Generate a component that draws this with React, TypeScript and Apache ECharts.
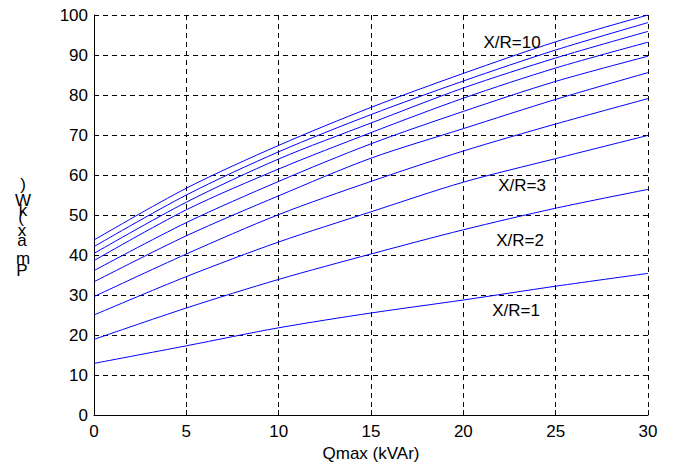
import React, { useEffect, useRef } from "react";
import * as echarts from "echarts";

const qmax = [0, 5, 10, 15, 20, 25, 30];
const xr1 = [12.9, 17.3, 21.8, 25.5, 28.75, 32.2, 35.4];
const xr2 = [18.9, 26.75, 33.9, 40.25, 46.3, 51.7, 56.4];
const xr3 = [25, 34.6, 43.25, 50.8, 58.2, 64.1, 69.9];
const xr4 = [29.6, 40.25, 50.1, 58.4, 66, 72.75, 79.1];
const xr5 = [33.3, 44.8, 54.8, 64.2, 71.6, 78.9, 85.6];
const xr6 = [36.1, 48.1, 58.4, 67.8, 75.9, 83.4, 89.7];
const xr7 = [38.6, 51.3, 61.5, 70.6, 79.2, 86.75, 93.2];
const xr8 = [40.4, 53.2, 64.0, 73.0, 81.75, 89.25, 95.9];
const xr9 = [42.1, 55, 65.8, 75.1, 83.5, 91.25, 98.1];
const xr10 = [43.75, 56.7, 67.4, 76.9, 85.4, 93.3, 100];
const seriesList = [xr1, xr2, xr3, xr4, xr5, xr6, xr7, xr8, xr9, xr10];
const seriesNames = ["X/R=1", "X/R=2", "X/R=3", "X/R=4", "X/R=5", "X/R=6", "X/R=7", "X/R=8", "X/R=9", "X/R=10"];
const curveLabels = ["X/R=10", "X/R=3", "X/R=2", "X/R=1"];
const xAxisTitle = "Qmax (kVAr)";
const yAxisTitleChars = [")", "W", "k", "(", "x", "a", "m", "P"];

const FONT = "'Liberation Sans', Arial, sans-serif";
const FS = 17;

export default function App() {
  const ref = useRef<HTMLDivElement>(null);
  useEffect(() => {
    if (!ref.current) return;
    const chart = echarts.init(ref.current, undefined, { renderer: "svg" });
    const labelPos = [
      [512, 42],
      [522, 185],
      [520, 240],
      [516, 310],
    ];
    const yCharPos = [
      [23, 184],
      [23, 200],
      [23, 210],
      [21, 217],
      [22, 230],
      [22, 240],
      [23, 258],
      [22, 270],
    ];
    const graphics: any[] = [];
    curveLabels.forEach((t, i) => {
      graphics.push({
        type: "text",
        x: labelPos[i][0],
        y: labelPos[i][1],
        style: {
          text: t,
          font: FS + "px " + FONT,
          fill: "#000",
          align: "center",
          verticalAlign: "middle",
        },
        z: 10,
      });
    });
    yAxisTitleChars.forEach((c, i) => {
      graphics.push({
        type: "text",
        x: yCharPos[i][0],
        y: yCharPos[i][1],
        style: {
          text: c,
          font: FS + "px " + FONT,
          fill: "#000",
          align: "center",
          verticalAlign: "middle",
        },
      });
    });
    const gridLine = {
      show: true,
      lineStyle: { color: "#000", type: [5, 4] as any, width: 1 },
    };
    chart.setOption({
      animation: false,
      backgroundColor: "#fff",
      grid: { left: 94, right: 33, top: 15, bottom: 53, containLabel: false },
      xAxis: {
        type: "value",
        min: 0,
        max: 30,
        interval: 5,
        name: xAxisTitle,
        nameLocation: "middle",
        nameGap: 29,
        nameTextStyle: { fontFamily: FONT, fontSize: FS, color: "#000" },
        axisLine: { show: true, onZero: false, lineStyle: { color: "#000", width: 1 } },
        axisTick: { show: true, inside: true, length: 5, lineStyle: { color: "#000" } },
        axisLabel: { fontFamily: FONT, fontSize: FS, color: "#000", margin: 8 },
        splitLine: gridLine,
      },
      yAxis: {
        type: "value",
        min: 0,
        max: 100,
        interval: 10,
        axisLine: { show: true, lineStyle: { color: "#000", width: 1 } },
        axisTick: { show: true, inside: true, length: 5, lineStyle: { color: "#000" } },
        axisLabel: { fontFamily: FONT, fontSize: FS, color: "#000", margin: 6 },
        splitLine: gridLine,
      },
      graphic: graphics,
      series: seriesList.map((vals, i) => ({
        type: "line",
        name: seriesNames[i],
        data: qmax.map((x, j) => [x, vals[j]]),
        showSymbol: false,
        smooth: 0.3,
        lineStyle: { color: "#0000ff", width: 1 },
        itemStyle: { color: "#0000ff" },
      })),
    });
    return () => chart.dispose();
  }, []);
  return (
    <div
      ref={ref}
      style={{ position: "fixed", left: 0, top: 0, width: 681, height: 468 }}
    />
  );
}
